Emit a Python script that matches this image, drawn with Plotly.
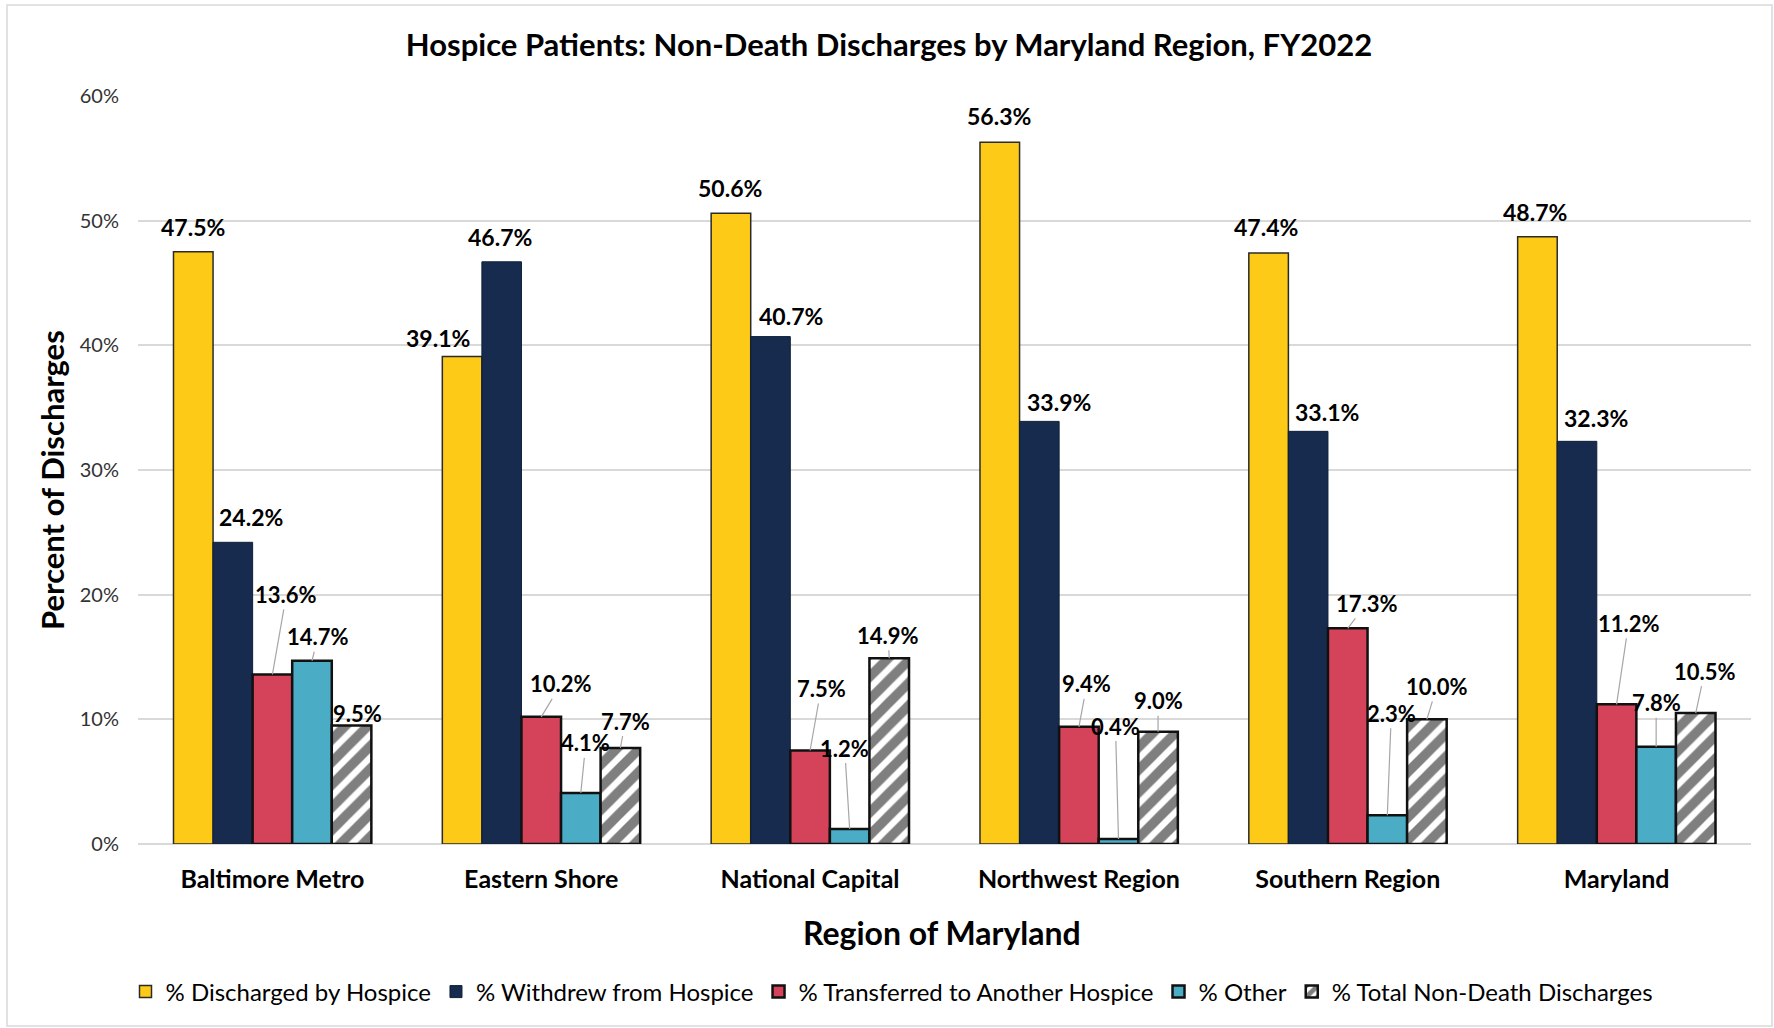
import plotly.graph_objects as go

# ---------------- data ----------------
regions = ["Baltimore Metro", "Eastern Shore", "National Capital",
           "Northwest Region", "Southern Region", "Maryland"]
series_names = ["% Discharged by Hospice", "% Withdrew from Hospice",
                "% Transferred to Another Hospice", "% Other",
                "% Total Non-Death Discharges"]
discharged_by_hospice = [47.5, 39.1, 50.6, 56.3, 47.4, 48.7]
withdrew_from_hospice = [24.2, 46.7, 40.7, 33.9, 33.1, 32.3]
transferred_to_another = [13.6, 10.2, 7.5, 9.4, 17.3, 11.2]
other = [14.7, 4.1, 1.2, 0.4, 2.3, 7.8]
total_non_death = [9.5, 7.7, 14.9, 9.0, 10.0, 10.5]
y_ticks = [0, 10, 20, 30, 40, 50, 60]

series_values = [discharged_by_hospice, withdrew_from_hospice,
                 transferred_to_another, other, total_non_death]

# ---------------- styling / layout ----------------
W, H = 1774, 1028
PL, PR, PT, PB = 138, 1751, 96, 844   # plot area in pixels
FONT = "Lato"
colors = ["#FDCA18", "#162B4E", "#D5435A", "#4BACC6", "#FFFFFF"]
line_colors = ["#2a2a2a", "#0f1f3a", "#111111", "#111111", "#111111"]
line_widths = [1.5, 1.0, 2.5, 2.5, 2.5]
BARGAP = 0.264
n_series = len(series_names)
bar_w = (1 - BARGAP) / n_series

# label offsets in pixels (dx, dy) per series, per region
label_offsets = [
    [(0, -25), (-24, -19), (-1, -25), (-1, -26), (-3, -26), (-2, -25)],
    [(18, -25), (-2, -25), (20, -21), (20, -19), (19, -19), (19, -23)],
    [(14, -80), (20, -33), (11, -62), (8, -43), (19, -25), (12, -81)],
    [(6, -24), (5, -50), (-5, -81), (-3, -113), (4, -102), (0, -44)],
    [(6, -12), (5, -27), (-1, -23), (0, -31), (10, -33), (9, -42)],
]


def px_to_paper_x(px):
    return (px - PL) / (PR - PL)


def px_to_paper_y(py):
    return (PB - py) / (PB - PT)


xs = list(range(len(regions)))
fig = go.Figure()
for j, (name, vals) in enumerate(zip(series_names, series_values)):
    marker = dict(color=colors[j], line=dict(color=line_colors[j], width=line_widths[j]))
    if j == 4:
        marker["pattern"] = dict(shape="/", fgcolor="#000000", bgcolor="#FFFFFF",
                                 size=16, solidity=0.6)
    fig.add_trace(go.Bar(x=xs, y=vals, name=name, marker=marker))

annotations = []
for j, vals in enumerate(series_values):
    for i, v in enumerate(vals):
        xc = i - (1 - BARGAP) / 2 + bar_w * (j + 0.5)
        dx, dy = label_offsets[j][i]
        txt = f"<b>{v:.1f}%</b>"
        if j < 2:
            annotations.append(dict(x=xc, y=v, xref="x", yref="y", text=txt,
                                    showarrow=False, xshift=dx, yshift=-dy,
                                    xanchor="center", yanchor="middle",
                                    font=dict(family=FONT, size=23, color="#000000")))
        else:
            annotations.append(dict(x=xc, y=v, xref="x", yref="y", text=txt,
                                    showarrow=True, arrowhead=0, arrowwidth=1.2,
                                    arrowcolor="#A6A6A6", ax=dx, ay=dy,
                                    standoff=0, startstandoff=0,
                                    font=dict(family=FONT, size=22, color="#000000")))

# axis titles
annotations.append(dict(x=px_to_paper_x(942), y=px_to_paper_y(933), xref="paper", yref="paper",
                        text="<b>Region of Maryland</b>", showarrow=False,
                        xanchor="center", yanchor="middle",
                        font=dict(family=FONT, size=32, color="#000000")))
annotations.append(dict(x=px_to_paper_x(52), y=px_to_paper_y(480), xref="paper", yref="paper",
                        text="<b>Percent of Discharges</b>", showarrow=False, textangle=-90,
                        xanchor="center", yanchor="middle",
                        font=dict(family=FONT, size=31, color="#000000")))

fig.update_layout(
    width=W, height=H,
    margin=dict(l=PL, r=W - PR, t=PT, b=H - PB, pad=0),
    paper_bgcolor="#FFFFFF", plot_bgcolor="#FFFFFF",
    barmode="group", bargap=BARGAP, bargroupgap=0,
    title=dict(text="<b>Hospice Patients: Non-Death Discharges by Maryland Region, FY2022</b>",
               x=px_to_paper_x(889), xref="paper", xanchor="center",
               y=1 - 45 / H, yref="container", yanchor="middle",
               font=dict(family=FONT, size=31, color="#000000")),
    xaxis=dict(range=[-0.5, len(regions) - 0.5], tickvals=xs, ticktext=[f"<b>{r}</b>" for r in regions],
               tickfont=dict(family=FONT, size=25, color="#000000"),
               showgrid=False, zeroline=False, showline=False, ticks="",
               ticklabelstandoff=18),
    yaxis=dict(range=[0, 60], tickvals=y_ticks, ticktext=[f"{t}%" for t in y_ticks],
               tickfont=dict(family=FONT, size=20, color="#333333"),
               showgrid=True, gridcolor="#D9D9D9", gridwidth=1.5,
               zeroline=True, zerolinecolor="#D9D9D9", zerolinewidth=1.5,
               showline=False, ticks="", ticklabelstandoff=18),
    legend=dict(orientation="h", x=px_to_paper_x(892), xanchor="center",
                y=px_to_paper_y(992), yanchor="middle",
                font=dict(family=FONT, size=24, color="#000000"),
                itemwidth=30, traceorder="normal", bgcolor="rgba(0,0,0,0)"),
    annotations=annotations,
    shapes=[dict(type="rect", xref="paper", yref="paper",
                 x0=px_to_paper_x(7), x1=px_to_paper_x(1772),
                 y0=px_to_paper_y(1026), y1=px_to_paper_y(5),
                 line=dict(color="#D9D9D9", width=1.5), fillcolor="rgba(0,0,0,0)", layer="below")],
)

fig.write_html("out.html", config={"displayModeBar": False},
               post_script="document.body.style.margin='0';")
